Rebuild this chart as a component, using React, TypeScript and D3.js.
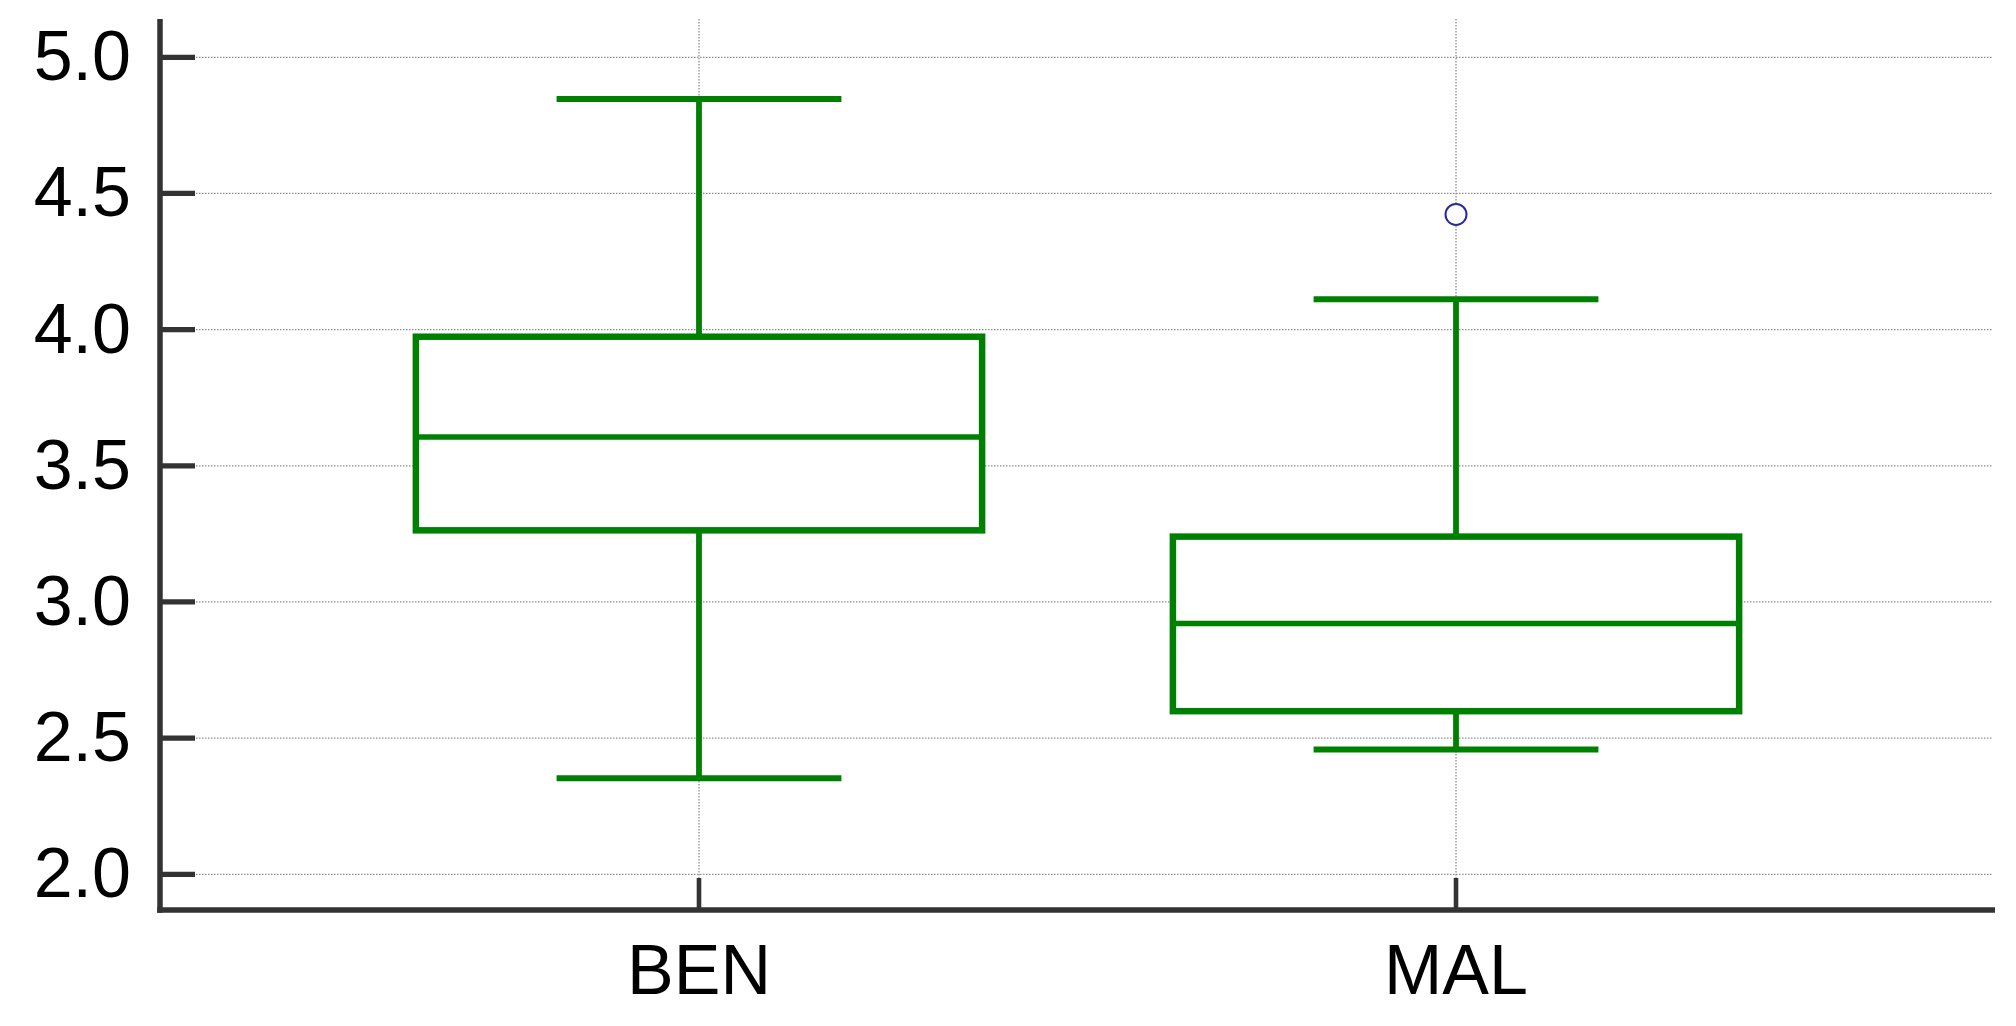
import React from "react";
import * as d3 from "d3";

const categories = ["BEN", "MAL"];
const lowerWhisker = [2.353, 2.458];
const q1 = [3.263, 2.599];
const median = [3.606, 2.921];
const q3 = [3.974, 3.24];
const upperWhisker = [4.847, 4.112];
const outliers: { cat: string; value: number }[] = [{ cat: "MAL", value: 4.423 }];
const yTicks = [2.0, 2.5, 3.0, 3.5, 4.0, 4.5, 5.0];

const W = 2016;
const H = 1026;
const axisLeft = 160;
const axisBottom = 910;
const plotTop = 19;
const plotRight = 1995;

export default function App() {
  const y = d3.scaleLinear().domain([2, 5]).range([874.3, 57.3]);
  const x = d3.scalePoint<string>().domain(categories).range([axisLeft, plotRight]).padding(0.712);
  const step = x.step();
  const boxHalf = step * 0.374;
  const capHalf = boxHalf * 0.503;
  const fmt = d3.format(".1f");
  const green = "#008000";
  const axisColor = "#333333";
  const gridColor = "#8f8f8f";

  return (
    <svg
      width={W}
      height={H}
      style={{ position: "absolute", left: 0, top: 0, display: "block", background: "#fff" }}
      fontFamily="'Liberation Sans', Arial, sans-serif"
    >
      <rect x={0} y={0} width={W} height={H} fill="#fff" />
      {yTicks.map((t) => (
        <line
          key={"hg" + t}
          x1={axisLeft}
          x2={1993}
          y1={y(t)}
          y2={y(t)}
          stroke={gridColor}
          strokeWidth={1.3}
          strokeDasharray="1.5,1.5"
        />
      ))}
      {categories.map((c) => (
        <line
          key={"vg" + c}
          x1={x(c)}
          x2={x(c)}
          y1={plotTop}
          y2={878}
          stroke={gridColor}
          strokeWidth={1.3}
          strokeDasharray="1.5,1.5"
        />
      ))}
      {categories.map((c, i) => {
        const cx = x(c) as number;
        return (
          <g key={"box" + c}>
            <line x1={cx} x2={cx} y1={y(upperWhisker[i])} y2={y(q3[i])} stroke={green} strokeWidth={5.8} />
            <line x1={cx} x2={cx} y1={y(q1[i])} y2={y(lowerWhisker[i])} stroke={green} strokeWidth={5.8} />
            <line
              x1={cx - capHalf}
              x2={cx + capHalf}
              y1={y(upperWhisker[i])}
              y2={y(upperWhisker[i])}
              stroke={green}
              strokeWidth={6}
            />
            <line
              x1={cx - capHalf}
              x2={cx + capHalf}
              y1={y(lowerWhisker[i])}
              y2={y(lowerWhisker[i])}
              stroke={green}
              strokeWidth={6}
            />
            <rect
              x={cx - boxHalf}
              y={y(q3[i])}
              width={boxHalf * 2}
              height={y(q1[i]) - y(q3[i])}
              fill="#fff"
              stroke={green}
              strokeWidth={6.5}
            />
            <line
              x1={cx - boxHalf}
              x2={cx + boxHalf}
              y1={y(median[i])}
              y2={y(median[i])}
              stroke={green}
              strokeWidth={5.5}
            />
          </g>
        );
      })}
      {outliers.map((o, i) => (
        <circle
          key={"o" + i}
          cx={x(o.cat)}
          cy={y(o.value)}
          r={10.5}
          fill="#fff"
          stroke="#2a2aa0"
          strokeWidth={2}
        />
      ))}
      <line x1={axisLeft} x2={axisLeft} y1={plotTop} y2={axisBottom + 2.75} stroke={axisColor} strokeWidth={5.5} />
      {yTicks.map((t) => (
        <g key={"yt" + t}>
          <line x1={axisLeft} x2={195} y1={y(t)} y2={y(t)} stroke={axisColor} strokeWidth={5.3} />
          <text x={131} y={y(t) + 23} textAnchor="end" fontSize={70} fill="#000">
            {fmt(t)}
          </text>
        </g>
      ))}
      <line x1={axisLeft - 2.75} x2={plotRight} y1={axisBottom} y2={axisBottom} stroke={axisColor} strokeWidth={5.5} />
      {categories.map((c) => (
        <g key={"xt" + c}>
          <line x1={x(c)} x2={x(c)} y1={axisBottom} y2={878} stroke={axisColor} strokeWidth={4.6} />
          <text x={x(c)} y={994} textAnchor="middle" fontSize={70} fill="#000">
            {c}
          </text>
        </g>
      ))}
    </svg>
  );
}
